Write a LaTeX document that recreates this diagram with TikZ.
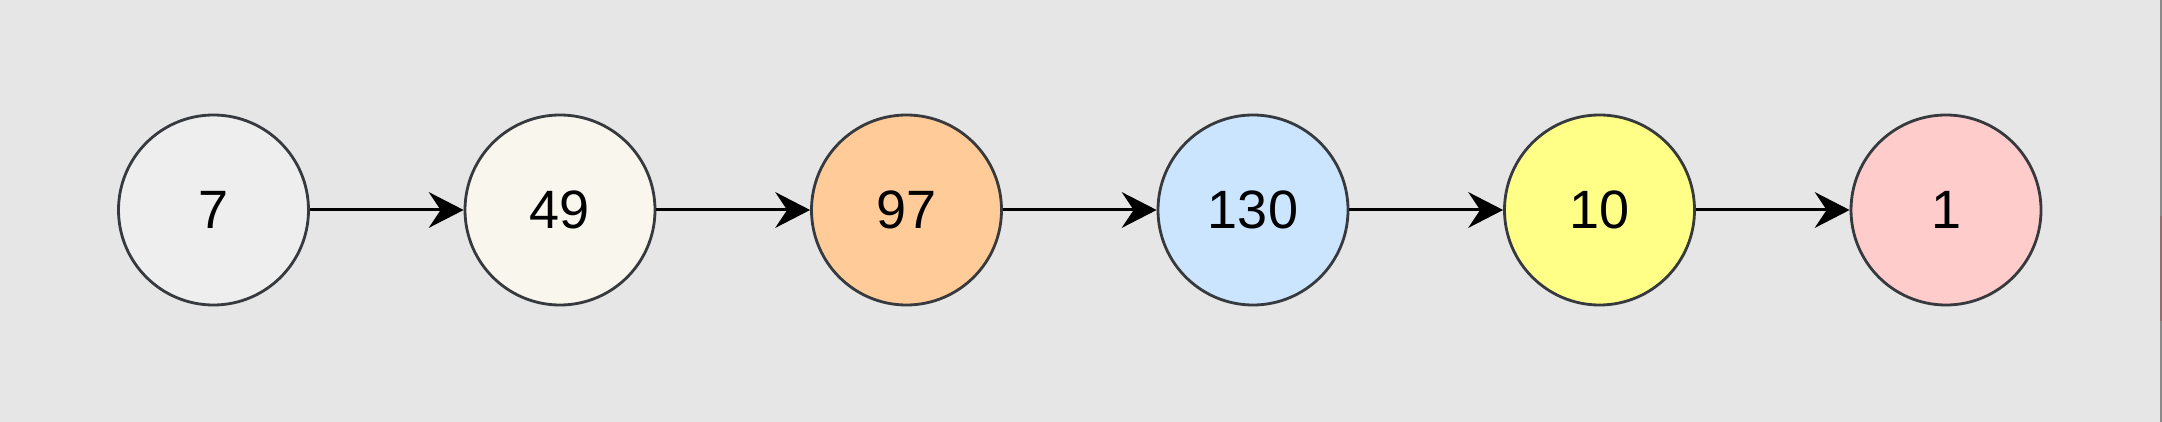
\documentclass[tikz,border=0pt]{standalone}
\usepackage{fontspec}
\setmainfont{Liberation Sans}
\usetikzlibrary{arrows.meta}
\definecolor{bgc}{HTML}{E6E6E6}
\definecolor{strokec}{HTML}{36393D}
\definecolor{fA}{HTML}{EEEEEE}
\definecolor{fB}{HTML}{F9F7ED}
\definecolor{fC}{HTML}{FFCC99}
\definecolor{fD}{HTML}{CCE5FF}
\definecolor{fE}{HTML}{FFFF88}
\definecolor{fF}{HTML}{FFCCCC}
\definecolor{edgec}{HTML}{8A8A8A}
\definecolor{edger}{HTML}{8A7070}
\tikzset{
  numnode/.style={circle, draw=strokec, line width=2.8pt, minimum size=190pt, inner sep=0pt,
    font=\fontsize{54pt}{60pt}\selectfont, text=black},
  linkarrow/.style={line width=3pt, draw=black,
    -{Stealth[length=35pt, width=36pt, inset=12pt, line width=0pt, fill=black]}}
}
\begin{document}
\begin{tikzpicture}[x=1pt, y=-1pt]
  \fill[bgc] (0,0) rectangle (2162,422);
  \useasboundingbox (0,0) rectangle (2162,422);
  \fill[edgec] (2160,0) rectangle (2162,422);
  \fill[edger] (2160,216) rectangle (2162,321);
  \node[numnode, fill=fA] (n1) at (213.5,210) {7};
  \node[numnode, fill=fB] (n2) at (560,210) {49};
  \node[numnode, fill=fC] (n3) at (906.5,210) {97};
  \node[numnode, fill=fD] (n4) at (1253,210) {130};
  \node[numnode, fill=fE] (n5) at (1599.5,210) {10};
  \node[numnode, fill=fF] (n6) at (1946,210) {1};
  \draw[linkarrow] (n1) -- (n2);
  \draw[linkarrow] (n2) -- (n3);
  \draw[linkarrow] (n3) -- (n4);
  \draw[linkarrow] (n4) -- (n5);
  \draw[linkarrow] (n5) -- (n6);
\end{tikzpicture}
\end{document}
